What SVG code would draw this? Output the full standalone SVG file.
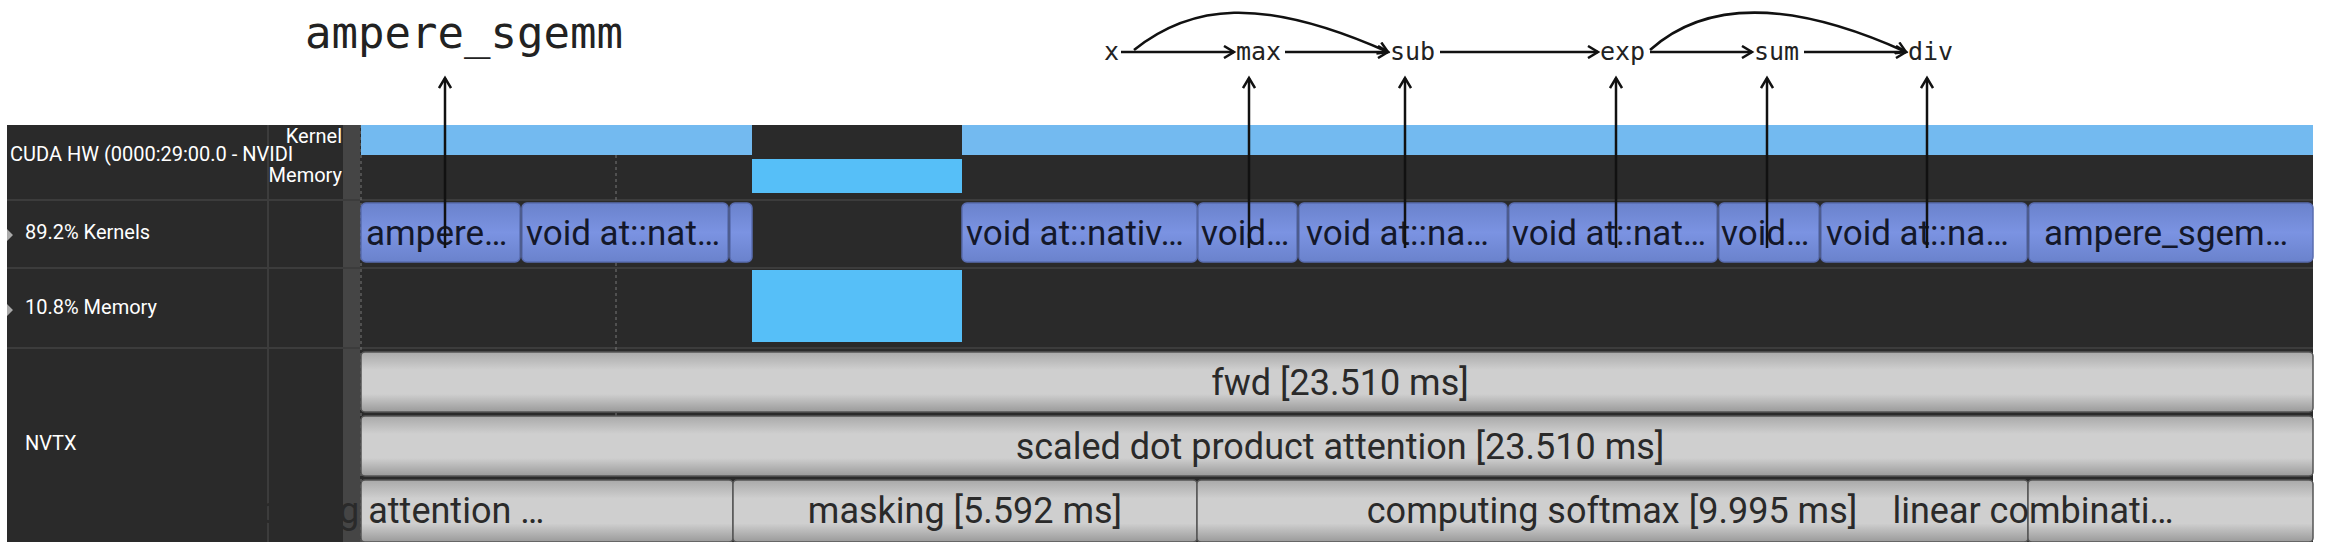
<svg xmlns="http://www.w3.org/2000/svg" width="2328" height="542" viewBox="0 0 2328 542">
<style>
.lbl{font-family:Roboto,"Liberation Sans",sans-serif;fill:#fff;font-size:20px}
.k{fill:url(#kg);stroke:#5a6db0;stroke-width:1.5}
.kt{font-family:Roboto,"Liberation Sans",sans-serif;font-size:35px;fill:#14182a}
.n{fill:url(#ng);stroke:#555;stroke-width:1.5}
.nt{font-family:Roboto,"Liberation Sans",sans-serif;font-size:36px;fill:#2a2a2a;text-anchor:middle}
.mono{font-family:"DejaVu Sans Mono","Liberation Mono",monospace;font-size:25px;fill:#222}
.ar{stroke:#111;stroke-width:2.5;fill:none;marker-end:url(#ah)}
.grid{stroke:#3c3c3c;stroke-width:2}
</style>
<defs>
<linearGradient id="kg" x1="0" y1="0" x2="0" y2="1"><stop offset="0" stop-color="#6a82cc"/><stop offset="0.5" stop-color="#7b93e2"/><stop offset="1" stop-color="#6a82cc"/></linearGradient>
<linearGradient id="ng" x1="0" y1="0" x2="0" y2="1"><stop offset="0" stop-color="#a9a9a9"/><stop offset="0.3" stop-color="#cfcfcf"/><stop offset="0.7" stop-color="#cfcfcf"/><stop offset="1" stop-color="#9a9a9a"/></linearGradient>
<marker id="ah" markerWidth="14" markerHeight="14" refX="11" refY="7" orient="auto" markerUnits="userSpaceOnUse"><path d="M1,1 L11,7 L1,13" fill="none" stroke="#111" stroke-width="2.5"/></marker>
</defs>
<rect width="2328" height="542" fill="#fff"/>
<g id="panel">
<rect x="7" y="125" width="2306" height="417" fill="#2a2a2a"/>
<rect x="343" y="125" width="17" height="417" fill="#454545"/>
<line class="grid" x1="268" y1="125" x2="268" y2="542"/>
<line class="grid" x1="7" y1="200" x2="2313" y2="200"/>
<line class="grid" x1="7" y1="268" x2="2313" y2="268"/>
<line class="grid" x1="7" y1="348" x2="2313" y2="348"/>
<line x1="616" y1="125" x2="616" y2="542" stroke="#777" stroke-width="1" stroke-dasharray="3,3"/>
<line x1="361" y1="125" x2="361" y2="542" stroke="#777" stroke-width="1" stroke-dasharray="3,3"/>
<text class="lbl" x="342" y="143" text-anchor="end">Kernel</text>
<text class="lbl" x="342" y="182" text-anchor="end">Memory</text>
<text class="lbl" x="10" y="161">CUDA HW (0000:29:00.0 - NVIDI</text>
<text class="lbl" x="25" y="239">89.2% Kernels</text>
<text class="lbl" x="25" y="314">10.8% Memory</text>
<text class="lbl" x="25" y="450">NVTX</text>
<path d="M7,229 l6,6 l-6,6z M7,304 l6,6 l-6,6z" fill="#aaa"/>
</g>
<g id="hw">
<rect x="361" y="125" width="391" height="30" fill="#73baf0"/>
<rect x="962" y="125" width="1351" height="30" fill="#73baf0"/>
<rect x="752" y="159" width="210" height="34" fill="#56bff8"/>
<rect x="752" y="270" width="210" height="72" fill="#56bff8"/>
</g>
<g id="kernels">
<rect class="k" x="361" y="203" width="159" height="59" rx="5"/><text class="kt" x="366" y="245">ampere…</text>
<rect class="k" x="522" y="203" width="206" height="59" rx="5"/><text class="kt" x="526" y="245">void at::nat…</text>
<rect class="k" x="730" y="203" width="22" height="59" rx="5"/>
<rect class="k" x="962" y="203" width="235" height="59" rx="5"/><text class="kt" x="966" y="245">void at::nativ…</text>
<rect class="k" x="1198" y="203" width="99" height="59" rx="5"/><text class="kt" x="1201" y="245">void…</text>
<rect class="k" x="1299" y="203" width="208" height="59" rx="5"/><text class="kt" x="1306" y="245">void at::na…</text>
<rect class="k" x="1509" y="203" width="208" height="59" rx="5"/><text class="kt" x="1512" y="245">void at::nat…</text>
<rect class="k" x="1719" y="203" width="100" height="59" rx="5"/><text class="kt" x="1721" y="245">void…</text>
<rect class="k" x="1821" y="203" width="206" height="59" rx="5"/><text class="kt" x="1826" y="245">void at::na…</text>
<rect class="k" x="2029" y="203" width="284" height="59" rx="5"/><text class="kt" x="2044" y="245">ampere_sgem…</text>
</g>
<g id="nvtx">
<rect class="n" x="361" y="352" width="1952" height="60" rx="4"/><text class="nt" x="1340" y="395">fwd [23.510 ms]</text>
<rect class="n" x="361" y="416" width="1952" height="60" rx="4"/><text class="nt" x="1340" y="459">scaled dot product attention [23.510 ms]</text>
<rect class="n" x="361" y="480" width="372" height="62" rx="4"/><text class="nt" x="366" y="523" text-anchor="start">computing attention …</text>
<rect class="n" x="733" y="480" width="464" height="62" rx="4"/><text class="nt" x="965" y="523">masking [5.592 ms]</text>
<rect class="n" x="1197" y="480" width="831" height="62" rx="4"/><text class="nt" x="1612" y="523">computing softmax [9.995 ms]</text>
<rect class="n" x="2028" y="480" width="285" height="62" rx="4"/><text class="nt" x="2033" y="523" text-anchor="start">linear combinati…</text>
</g>
<g id="labels">
<text x="305" y="48" font-family="DejaVu Sans Mono,Liberation Mono,monospace" font-size="44" fill="#222">ampere_sgemm</text>
<text class="mono" x="1104" y="60">x</text>
<text class="mono" x="1236" y="60">max</text>
<text class="mono" x="1390" y="60">sub</text>
<text class="mono" x="1600" y="60">exp</text>
<text class="mono" x="1754" y="60">sum</text>
<text class="mono" x="1908" y="60">div</text>
</g>
<g id="connectors">
<path class="ar" d="M1121,52 H1234"/>
<path class="ar" d="M1285,52 H1388"/>
<path class="ar" d="M1440,52 H1598"/>
<path class="ar" d="M1650,52 H1752"/>
<path class="ar" d="M1804,52 H1906"/>
<path class="ar" d="M1134,50 C1190,5 1260,-5 1388,52"/>
<path class="ar" d="M1650,50 C1700,5 1780,-5 1906,52"/>
<path class="ar" d="M445,248 V78"/>
<path class="ar" d="M1249,248 V78"/>
<path class="ar" d="M1405,248 V78"/>
<path class="ar" d="M1616,248 V78"/>
<path class="ar" d="M1767,248 V78"/>
<path class="ar" d="M1927,248 V78"/>
</g>
</svg>
